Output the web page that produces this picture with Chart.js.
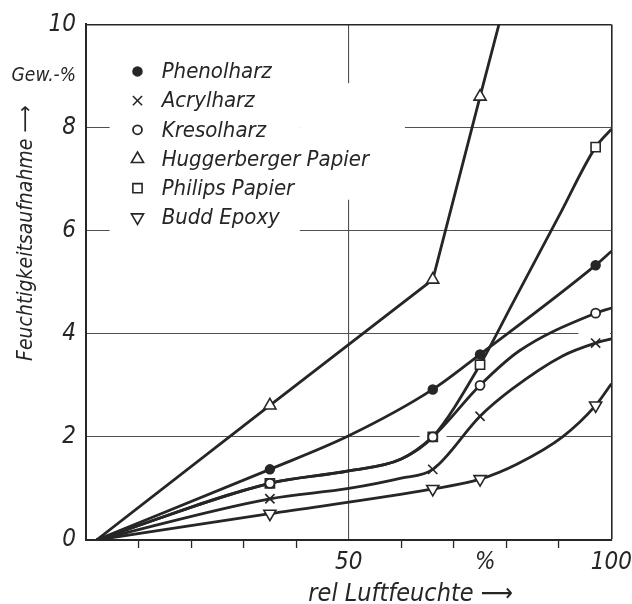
<!DOCTYPE html>
<html><head><meta charset="utf-8">
<script src="https://cdn.jsdelivr.net/npm/chart.js@4/dist/chart.umd.min.js"></script>
<style>html,body{margin:0;padding:0;background:#fff;}canvas{display:block}</style>
</head><body>
<canvas id="c" width="632" height="604"></canvas>
<script>
// ---- data ----
const seriesNames = ['Phenolharz', 'Acrylharz', 'Kresolharz', 'Huggerberger Papier', 'Philips Papier', 'Budd Epoxy'];
const markerX = [35, 66, 75, 97];            // x positions carrying measurement markers
const phenolX  = [2, 35, 50, 66, 75, 97, 100];
const phenolY  = [0, 1.37, 2.02, 2.92, 3.60, 5.33, 5.6];
const acrylX   = [2, 35, 50, 60, 66, 75, 81, 90.7, 97, 100];
const acrylY   = [0, 0.80, 1.0, 1.2, 1.37, 2.40, 2.92, 3.57, 3.82, 3.9];
const kresolX  = [2, 35, 50, 60, 66, 75, 82.5, 97, 100];
const kresolY  = [0, 1.10, 1.34, 1.57, 2.0, 3.0, 3.67, 4.40, 4.5];
const huggerX  = [2, 35, 66, 75, 78.6];
const huggerY  = [0, 2.61, 5.05, 8.60, 10];
const philipsX = [2, 35, 50, 60, 66, 75, 81.2, 90, 97, 100];
const philipsY = [0, 1.10, 1.34, 1.57, 2.0, 3.40, 4.59, 6.28, 7.62, 7.97];
const buddX    = [2, 35, 66, 75, 82, 90.7, 97, 100];
const buddY    = [0, 0.51, 0.99, 1.18, 1.47, 2.0, 2.61, 3.03];
const yTickValues = [0, 2, 4, 6, 8, 9, 10];
const yTickLabels = ['0', '2', '4', '6', '8', 'Gew.-%', '10'];
const xTickMarks  = [10, 20, 30, 40, 60, 70, 80, 90];
const xLabelValues = [50, 76, 100];
const xLabelTexts  = ['50', '%', '100'];
const yTitle = 'Feuchtigkeitsaufnahme \u27F6';
const xTitle = 'rel Luftfeuchte \u27F6';

// ---- styling ----
const ink = '#262626';
const gridInk = '#505050';
const textFont = "'DejaVu Sans Condensed', 'Liberation Sans Narrow', 'DejaVu Sans', sans-serif";
const numFont = "'Liberation Sans Narrow', 'DejaVu Sans Condensed', sans-serif";
const styles = [
  {pointStyle: 'circle',   rotation: 0,   radius: 4.5, fill: ink,    bw: 1.5},
  {pointStyle: 'crossRot', rotation: 0,   radius: 6.5, fill: ink,    bw: 1.6},
  {pointStyle: 'circle',   rotation: 0,   radius: 4.5, fill: '#fff', bw: 1.8},
  {pointStyle: 'triangle', rotation: 0,   radius: 7,   fill: '#fff', bw: 1.6},
  {pointStyle: 'rect',     rotation: 0,   radius: 6.5, fill: '#fff', bw: 1.6},
  {pointStyle: 'triangle', rotation: 180, radius: 7,   fill: '#fff', bw: 1.6}
];
const seriesX = [phenolX, acrylX, kresolX, huggerX, philipsX, buddX];
const seriesY = [phenolY, acrylY, kresolY, huggerY, philipsY, buddY];
const pts = (xs, ys) => xs.map((x, i) => ({x: x, y: ys[i]}));

const datasets = seriesNames.map((name, i) => ({
  label: name,
  data: pts(seriesX[i], seriesY[i]),
  borderColor: ink,
  borderWidth: 2.8,
  cubicInterpolationMode: i === 3 ? 'default' : 'monotone',
  tension: i === 3 ? 0 : 0.4,
  pointStyle: styles[i].pointStyle,
  pointRotation: styles[i].rotation,
  pointRadius: c => (c.raw && markerX.includes(c.raw.x)) ? styles[i].radius : 0,
  pointBackgroundColor: styles[i].fill,
  pointBorderColor: ink,
  pointBorderWidth: styles[i].bw,
  fill: false
}));

const whiteBg = {
  id: 'whiteBg',
  beforeDraw(chart) {
    const ctx = chart.ctx;
    ctx.save(); ctx.fillStyle = '#fff'; ctx.fillRect(0, 0, chart.width, chart.height); ctx.restore();
  }
};

// gaps in the grid lines (legend area etc.), drawn over the grid before the curves
const gridGaps = {
  id: 'gridGaps',
  beforeDatasetsDraw(chart) {
    const {ctx, scales: {x, y}} = chart;
    const box = (x0, x1, y0, y1) => {
      const px0 = x.getPixelForValue(x0), px1 = x.getPixelForValue(x1);
      const py0 = y.getPixelForValue(y0), py1 = y.getPixelForValue(y1);
      ctx.fillRect(px0, py0, px1 - px0, py1 - py0);
    };
    ctx.save();
    ctx.fillStyle = '#fff';
    box(4.5, 40.7, 9.7, 5.8);
    box(40.7, 60.7, 8.86, 6.6);
    box(93.7, 99.75, 4.1, 3.9);
    box(63.5, 68.6, 2.1, 1.9);
    ctx.restore();
  }
};

const annot = {
  id: 'annot',
  afterDraw(chart) {
    const {ctx, chartArea: a, scales: {x, y}} = chart;
    ctx.save();
    // legend
    const lx = x.getPixelForValue(9.8);
    const tx = x.getPixelForValue(14.4);
    const y0 = a.top + 47, dy = 29.2;
    ctx.textAlign = 'left';
    ctx.textBaseline = 'middle';
    seriesNames.forEach((n, i) => {
      const yy = y0 + i * dy;
      ctx.font = 'italic 22px ' + textFont;
      ctx.fillStyle = ink;
      ctx.fillText(n, tx, yy + 1);
      ctx.fillStyle = styles[i].fill;
      ctx.strokeStyle = ink;
      ctx.lineWidth = styles[i].bw;
      Chart.helpers.drawPoint(ctx, {
        pointStyle: styles[i].pointStyle, rotation: styles[i].rotation,
        radius: styles[i].radius, borderWidth: styles[i].bw
      }, lx, yy);
    });
    // axis titles
    ctx.fillStyle = ink;
    ctx.font = 'italic 21px ' + textFont;
    ctx.save();
    ctx.translate(27, y.getPixelForValue(5.95));
    ctx.rotate(-Math.PI / 2);
    ctx.textAlign = 'center';
    ctx.textBaseline = 'middle';
    ctx.fillText(yTitle, 0, 0);
    ctx.restore();
    ctx.font = 'italic 25px ' + textFont;
    ctx.textAlign = 'center';
    ctx.textBaseline = 'alphabetic';
    ctx.fillText(xTitle, x.getPixelForValue(61.8), 601);
    ctx.restore();
  }
};

new Chart(document.getElementById('c'), {
  type: 'line',
  data: {datasets: datasets},
  options: {
    responsive: false,
    devicePixelRatio: 1,
    animation: false,
    events: [],
    layout: {padding: {left: 0, right: 20, top: 17, bottom: 0}},
    plugins: {legend: {display: false}, tooltip: {enabled: false}, title: {display: false}},
    scales: {
      x: {
        type: 'linear', min: 0, max: 100,
        afterBuildTicks: s => { s.ticks = xTickMarks.concat(xLabelValues).sort((a, b) => a - b).map(v => ({value: v})); },
        afterFit: s => { s.height = 64; },
        border: {display: true, color: ink, width: 2},
        grid: {
          color: c => !c.tick ? 'rgba(0,0,0,0)' : (c.tick.value === 50 ? gridInk : (c.tick.value === 100 ? ink : 'rgba(0,0,0,0)')),
          lineWidth: c => (c.tick && c.tick.value === 100) ? 1.6 : 1.1,
          tickColor: c => (c.tick && xTickMarks.includes(c.tick.value)) ? ink : 'rgba(0,0,0,0)',
          tickLength: 8,
          tickWidth: 1.3
        },
        ticks: {
          autoSkip: false, maxRotation: 0, padding: 0, color: ink,
          font: {family: numFont, size: 24, style: 'italic'},
          callback: v => { const k = xLabelValues.indexOf(v); return k >= 0 ? xLabelTexts[k] : ''; }
        }
      },
      y: {
        type: 'linear', min: 0, max: 10,
        afterBuildTicks: s => { s.ticks = yTickValues.map(v => ({value: v})); },
        afterFit: s => { s.width = 86; },
        border: {display: true, color: ink, width: 2},
        grid: {
          drawTicks: false,
          color: c => {
            if (!c.tick) return 'rgba(0,0,0,0)';
            const v = c.tick.value;
            if (v === 10) return ink;
            if (v === 0 || v === 9) return 'rgba(0,0,0,0)';
            return gridInk;
          },
          lineWidth: c => (c.tick && c.tick.value === 10) ? 1.6 : 1.1
        },
        ticks: {
          padding: 10, color: ink,
          font: c => (c.tick && c.tick.value === 9)
            ? {family: textFont, size: 19, style: 'italic'}
            : {family: numFont, size: 24, style: 'italic'},
          callback: v => { const k = yTickValues.indexOf(v); return k >= 0 ? yTickLabels[k] : ''; }
        }
      }
    }
  },
  plugins: [whiteBg, gridGaps, annot]
});
</script>
</body></html>
